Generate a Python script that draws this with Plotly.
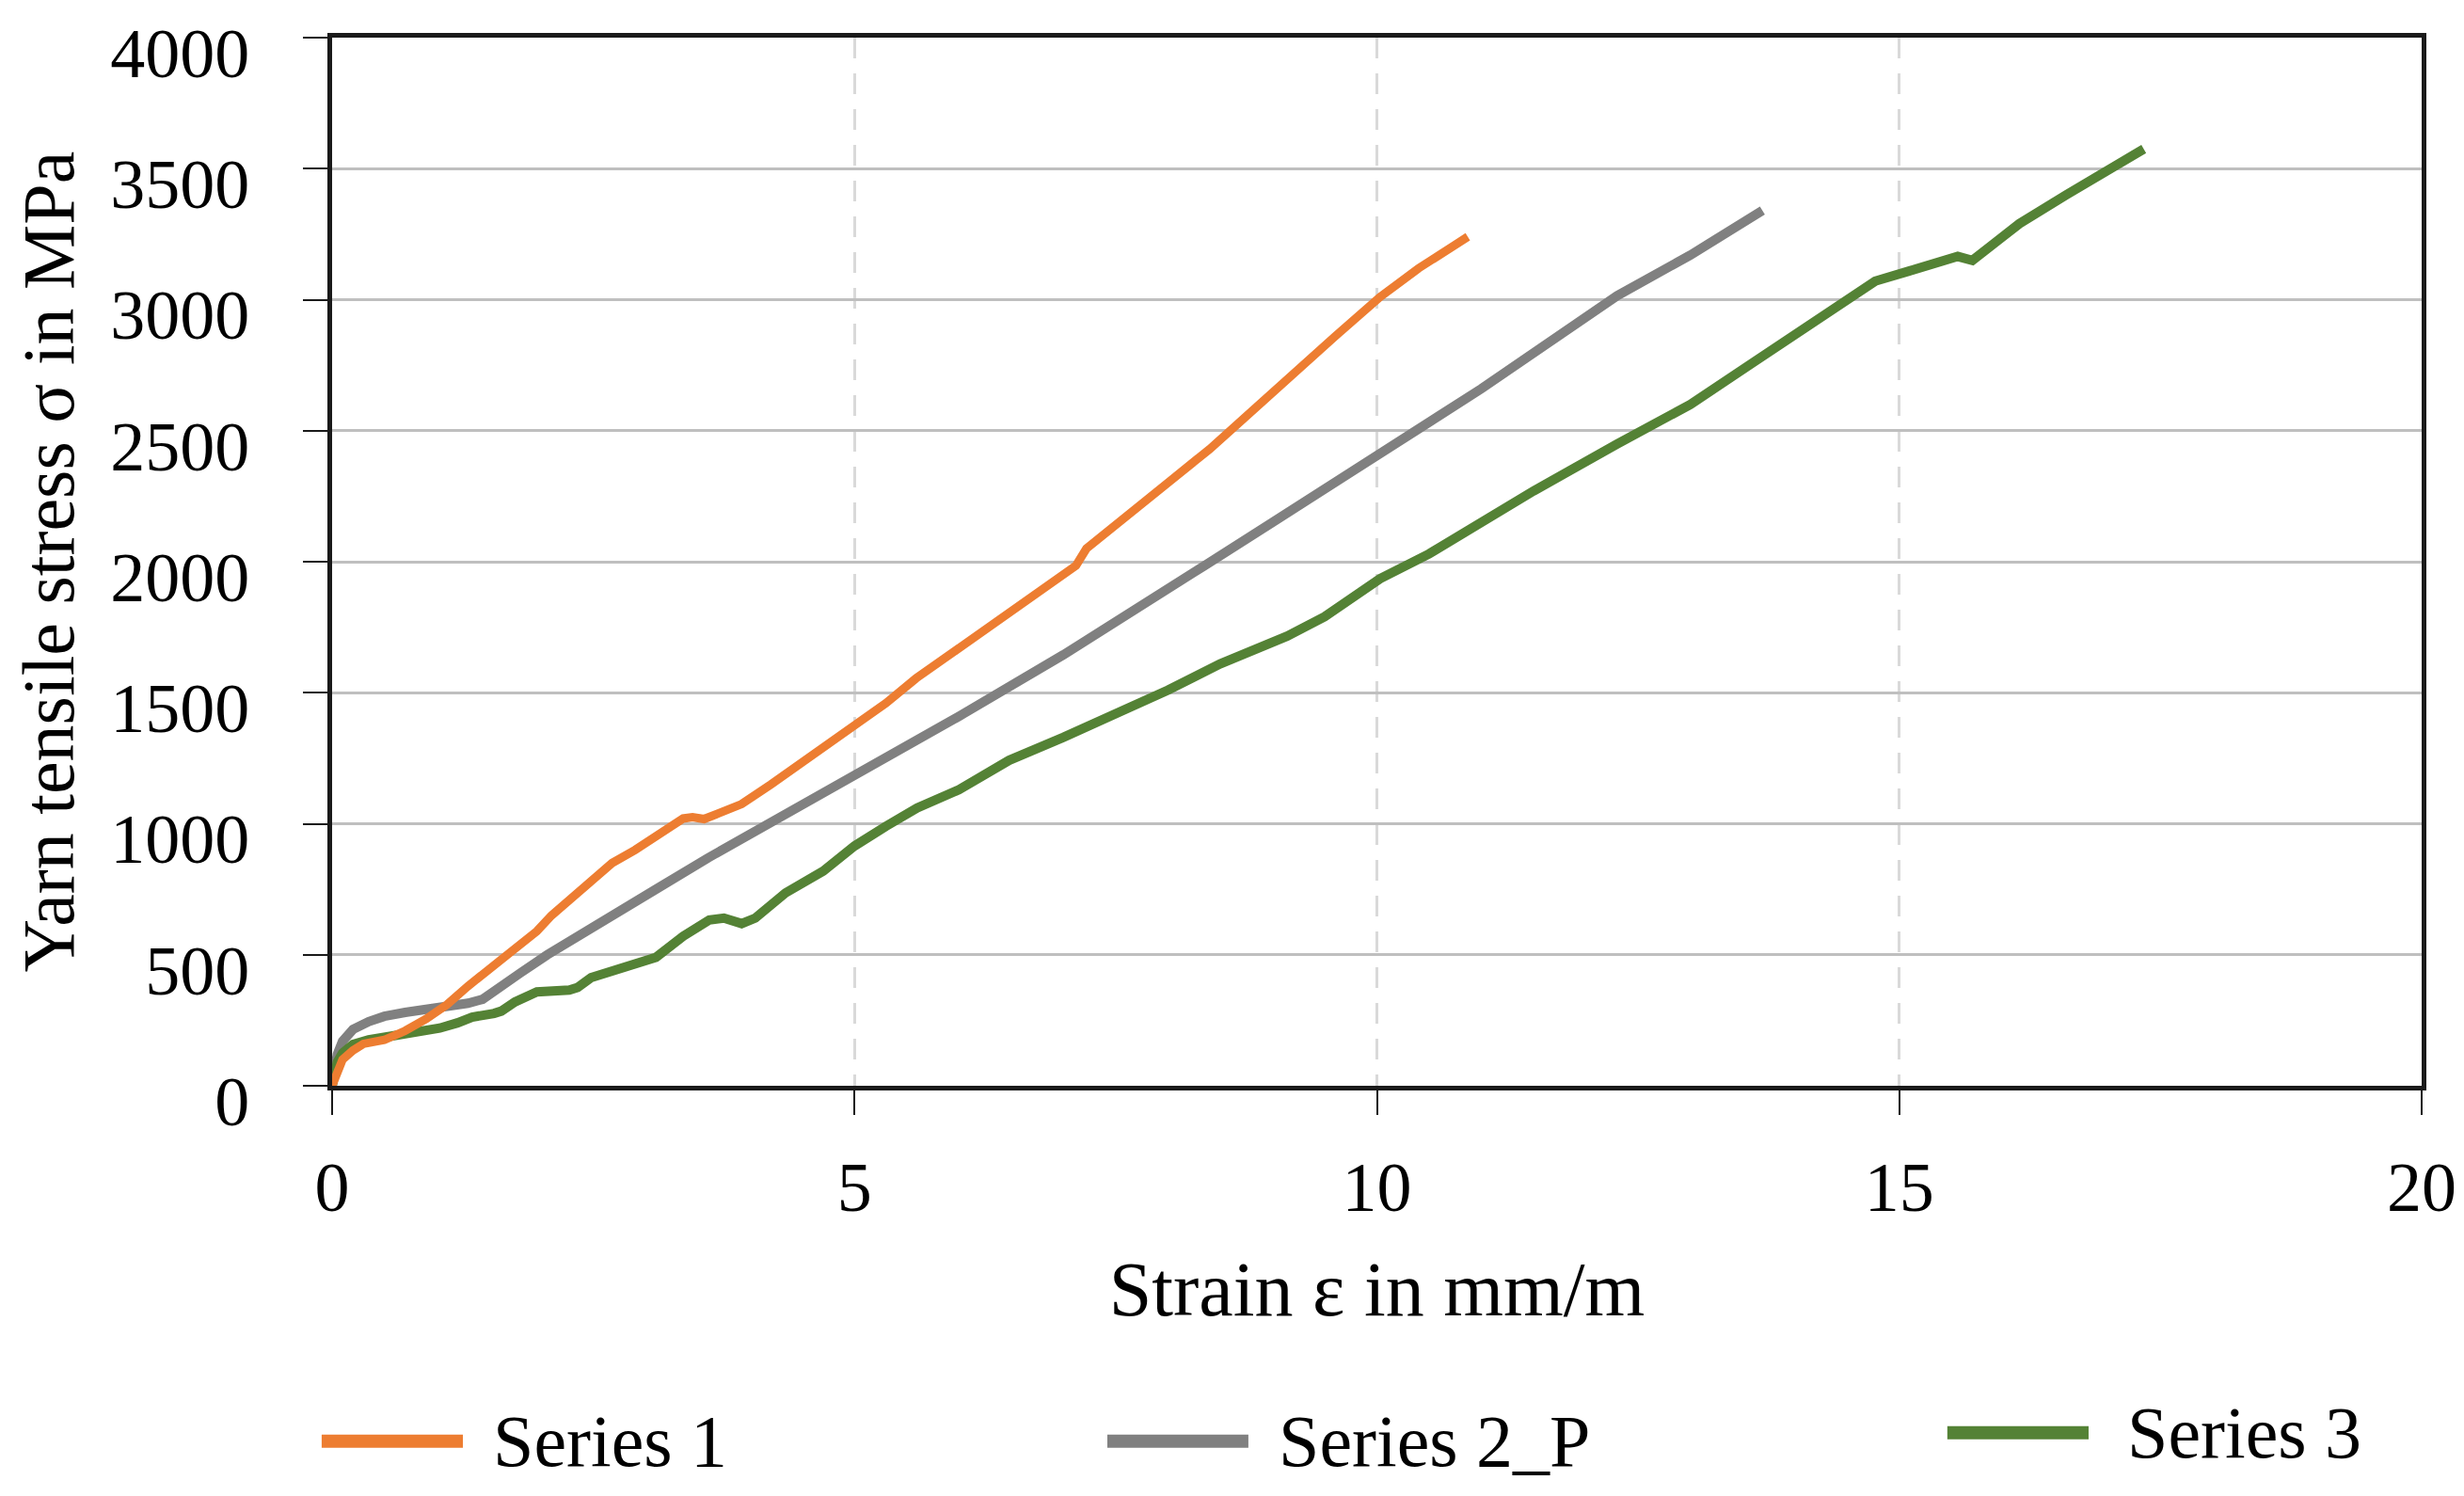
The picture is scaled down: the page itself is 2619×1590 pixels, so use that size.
import plotly.graph_objects as go

# ---- data ----
s1_x = [0, 0.05, 0.1, 0.2, 0.3, 0.5, 0.7, 0.9, 1.1, 1.3, 1.55, 1.75, 1.96, 2.1, 2.32, 2.5, 2.68, 2.9, 3.1, 3.36,
        3.45, 3.56, 3.7, 3.8, 3.92, 4.2, 4.6, 5.0, 5.3, 5.59, 6.0, 6.5, 7.0, 7.12, 7.22, 7.6, 8.0, 8.4, 8.75,
        9.2, 9.6, 10.03, 10.4, 10.87]
s1_y = [0, 60, 100, 135, 160, 175, 210, 255, 310, 380, 460, 530, 590, 650, 730, 790, 850, 900, 950, 1020,
        1025, 1018, 1040, 1060, 1075, 1150, 1260, 1375, 1460, 1555, 1670, 1810, 1950, 1985, 2050, 2170, 2300,
        2430, 2555, 2720, 2860, 3010, 3120, 3240]

s2_x = [0, 0.05, 0.1, 0.2, 0.35, 0.5, 0.7, 0.9, 1.1, 1.3, 1.44, 1.6, 1.8, 2.06, 2.5, 3.1, 3.6, 4.13, 4.6, 5.0,
        5.29, 6.0, 7.0, 8.0, 8.35, 9.0, 9.93, 11.0, 12.3, 13.0, 13.69]
s2_y = [0, 120, 170, 215, 245, 265, 280, 290, 300, 315, 330, 370, 430, 500, 610, 750, 870, 990, 1095, 1180,
        1245, 1410, 1645, 1890, 1985, 2150, 2390, 2660, 3015, 3170, 3340]

s3_x = [0, 0.05, 0.1, 0.2, 0.35, 0.51, 0.77, 1.03, 1.2, 1.34, 1.55, 1.62, 1.75, 1.96, 2.27, 2.35, 2.48, 2.94,
        3.1, 3.36, 3.61, 3.75, 3.92, 4.05, 4.34, 4.7, 5.0, 5.3, 5.6, 6.0, 6.48, 7.0, 7.5, 8.0, 8.5, 9.14, 9.5,
        10.03, 10.5, 11.0, 11.5, 12.3, 13.0, 13.6, 14.2, 14.77, 15.1, 15.4, 15.56, 15.7, 16.15, 16.6, 17.0, 17.34]
s3_y = [0, 90, 125, 158, 175, 185, 206, 220, 240, 262, 276, 285, 320, 358, 365, 375, 413, 468, 490, 571, 633,
        640, 619, 640, 736, 819, 915, 990, 1060, 1130, 1242, 1330, 1420, 1510, 1610, 1716, 1790, 1935, 2030,
        2150, 2270, 2449, 2600, 2760, 2920, 3071, 3110, 3145, 3165, 3150, 3290, 3400, 3490, 3575]

series_names = ["Series 1", "Series 2_P", "Series 3"]
x_ticks = [0, 5, 10, 15, 20]
y_ticks = [0, 500, 1000, 1500, 2000, 2500, 3000, 3500, 4000]

ORANGE = "#ED7D31"
GRAY = "#808080"
GREEN = "#548235"
FONT = "Liberation Serif"

fig = go.Figure()
fig.add_trace(go.Scatter(x=s2_x, y=s2_y, mode="lines", name=series_names[1],
                         line=dict(color=GRAY, width=10), showlegend=False))
fig.add_trace(go.Scatter(x=s3_x, y=s3_y, mode="lines", name=series_names[2],
                         line=dict(color=GREEN, width=10), showlegend=False))
fig.add_trace(go.Scatter(x=s1_x, y=s1_y, mode="lines", name=series_names[0],
                         line=dict(color=ORANGE, width=9), showlegend=False))

# manual legend (long line samples like the reference)
legend_items = [
    (series_names[0], ORANGE, -0.005, 0.0626, 0.076, -0.339),
    (series_names[1], GRAY, 0.371, 0.4385, 0.452, -0.339),
    (series_names[2], GREEN, 0.773, 0.8406, 0.858, -0.331),
]
shapes = []
annotations = []
for name, col, x0, x1, xt, yy in legend_items:
    shapes.append(dict(type="line", xref="paper", yref="paper", x0=x0, x1=x1, y0=yy, y1=yy,
                       line=dict(color=col, width=14)))
    annotations.append(dict(text=name, xref="paper", yref="paper", x=xt, y=yy, xanchor="left",
                            yanchor="middle", showarrow=False, font=dict(family=FONT, size=78, color="black")))

fig.update_layout(
    width=2619, height=1590,
    margin=dict(l=345, r=53, t=32, b=444),
    paper_bgcolor="white", plot_bgcolor="white",
    font=dict(family=FONT, size=74, color="black"),
    shapes=shapes, annotations=annotations,
    showlegend=False,
)
fig.update_xaxes(
    range=[0, 20], tickvals=x_ticks, ticktext=[str(v) for v in x_ticks],
    showline=True, linecolor="#1a1a1a", linewidth=5, mirror=True,
    ticks="outside", ticklen=26, tickwidth=2, tickcolor="#1a1a1a",
    showgrid=True, gridcolor="#d9d9d9", gridwidth=2.5, griddash="22px,16px",
    zeroline=False, ticklabelstandoff=13, ticklabeloverflow="allow", automargin=False,
    title=dict(text="Strain ε in mm/m", font=dict(family=FONT, size=82), standoff=40),
)
fig.update_yaxes(
    range=[0, 4000], tickvals=y_ticks, ticktext=[str(v) for v in y_ticks],
    showline=True, linecolor="#1a1a1a", linewidth=5, mirror=True,
    ticks="outside", ticklen=26, tickwidth=2, tickcolor="#1a1a1a",
    showgrid=True, gridcolor="#bfbfbf", gridwidth=2.5,
    zeroline=False, ticklabelstandoff=42, ticklabelshift=16, ticklabeloverflow="allow", automargin=False,
    title=dict(text="Yarn tensile stress σ in MPa", font=dict(family=FONT, size=78), standoff=28),
)

fig.write_html("out.html")
